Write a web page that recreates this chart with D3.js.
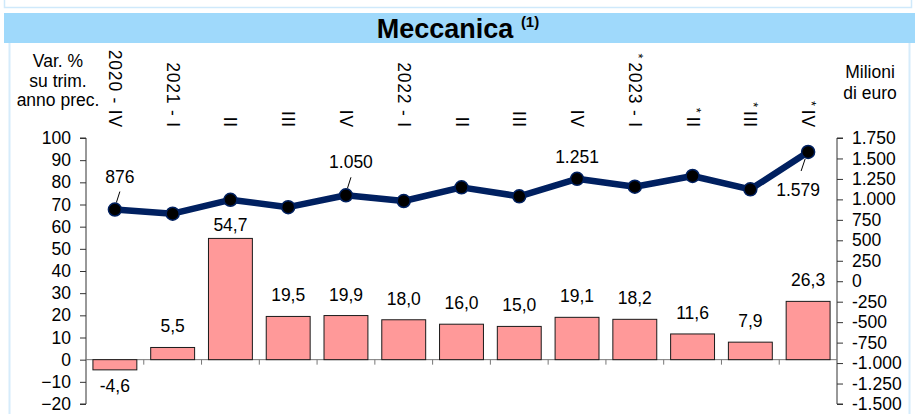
<!DOCTYPE html>
<html>
<head>
<meta charset="utf-8">
<script src="https://cdn.jsdelivr.net/npm/d3@7"></script>
<style>
  body { margin: 0; background: #fff; }
  svg { display: block; font-family: "Liberation Sans", Arial, sans-serif; }
</style>
</head>
<body>
<svg id="chart" width="915" height="414"></svg>
<script>
const quarters = ['2020 - IV', '2021 - I', 'II', 'III', 'IV', '2022 - I', 'II', 'III', 'IV', '2023 - I', 'II', 'III', 'IV']
const provisional = [false, false, false, false, false, false, false, false, false, true, true, true, true]
const varPct = [-4.6, 5.5, 54.7, 19.5, 19.9, 18.0, 16.0, 15.0, 19.1, 18.2, 11.6, 7.9, 26.3]
const milioni = [876, 825, 995, 905, 1050, 980, 1147, 1037, 1251, 1155, 1286, 1123, 1579]
const labelledPoints = [0, 4, 8, 12]
const leftTicks = d3.range(-20, 101, 10)
const rightTicks = d3.range(-1500, 1751, 250)

const it = d3.formatLocale({ decimal: ',', thousands: '.', grouping: [3], currency: ['', '€'], minus: '-' })
const fmt1 = it.format('.1f')
const fmtK = it.format(',d')

const svg = d3.select('#chart')
const pLeft = 86, pRight = 837, pTop = 138, pBottom = 404
const fs = 17.5

// frame / title band
svg.append('path')
  .attr('d', 'M4.5,0 V7.5 H911.5 V0')
  .attr('fill', 'none').attr('stroke', '#cfe9fb').attr('stroke-width', 1.5)
svg.append('rect')
  .attr('x', 4).attr('y', 13).attr('width', 911).attr('height', 30)
  .attr('fill', '#9fd9fb')
svg.append('path')
  .attr('d', 'M9.5,43 V414 M909.5,43 V414')
  .attr('fill', 'none').attr('stroke', '#d6ecfb').attr('stroke-width', 2)

const title = svg.append('text')
  .attr('x', 458).attr('y', 38)
  .attr('text-anchor', 'middle')
  .attr('font-size', 27).attr('font-weight', 'bold')
title.append('tspan').text('Meccanica ')
title.append('tspan').attr('font-size', 15).attr('dy', -11).text('(1)')

// scales
const x = d3.scaleBand().domain(d3.range(quarters.length)).range([pLeft, pRight]).paddingInner(0.24).paddingOuter(0.12)
const yL = d3.scaleLinear().domain([-20, 100]).range([pBottom, pTop])
const yR = d3.scaleLinear().domain([-1500, 1750]).range([pBottom, pTop])

// axes
const axL = svg.append('g')
  .attr('transform', `translate(${pLeft},0)`)
  .call(d3.axisLeft(yL).tickValues(leftTicks).tickSize(6).tickPadding(9).tickFormat(d3.format('d')))
const axR = svg.append('g')
  .attr('transform', `translate(${pRight},0)`)
  .call(d3.axisRight(yR).tickValues(rightTicks).tickSize(6).tickPadding(9).tickFormat(fmtK))
;[axL, axR].forEach(function(g) {
  g.select('.domain').attr('stroke', '#333').attr('d', g === axL ? `M-6,${pTop}H0V${pBottom}H-6` : `M6,${pTop}H0V${pBottom}H6`)
  g.selectAll('.tick line').attr('stroke', '#333')
  g.selectAll('.tick text').attr('font-size', fs).attr('fill', '#000').attr('font-family', '"Liberation Sans", Arial, sans-serif')
})

// zero line with category ticks
const xs = d3.range(quarters.length + 1).map(i => pLeft + i * (pRight - pLeft) / quarters.length)
svg.append('line')
  .attr('x1', pLeft).attr('x2', pRight).attr('y1', yL(0)).attr('y2', yL(0))
  .attr('stroke', '#777').attr('stroke-width', 1)
svg.append('g').selectAll('line')
  .data(xs.slice(1, -1))
  .enter().append('line')
  .attr('x1', d => d).attr('x2', d => d)
  .attr('y1', yL(0)).attr('y2', yL(0) + 5)
  .attr('stroke', '#777')

// bars
svg.append('g').selectAll('rect')
  .data(varPct)
  .enter().append('rect')
  .attr('x', (d, i) => x(i))
  .attr('width', x.bandwidth())
  .attr('y', d => yL(Math.max(0, d)))
  .attr('height', d => Math.abs(yL(d) - yL(0)))
  .attr('fill', '#ff9999')
  .attr('stroke', '#1a1a1a').attr('stroke-width', 1)

svg.append('g').selectAll('text')
  .data(varPct)
  .enter().append('text')
  .attr('x', (d, i) => x(i) + x.bandwidth() / 2)
  .attr('y', (d, i) => d < 0 ? yL(d) + 22 : yL(d) - (i === 2 ? 7 : 15))
  .attr('text-anchor', 'middle')
  .attr('font-size', fs)
  .text(d => fmt1(d))

// line
const cx = i => x(i) + x.bandwidth() / 2
const line = d3.line().x((d, i) => cx(i)).y(d => yR(d))
svg.append('path')
  .datum(milioni)
  .attr('d', line)
  .attr('fill', 'none')
  .attr('stroke', '#002060')
  .attr('stroke-width', 6.5)
  .attr('stroke-linejoin', 'round')
svg.append('g').selectAll('circle')
  .data(milioni)
  .enter().append('circle')
  .attr('cx', (d, i) => cx(i))
  .attr('cy', d => yR(d))
  .attr('r', 6.5)
  .attr('fill', '#000')
  .attr('stroke', '#002060').attr('stroke-width', 1.5)

// line labels (with short leaders, like the original data labels)
labelledPoints.forEach(function(i) {
  const px = cx(i), py = yR(milioni[i])
  let lx, ly, lead = null
  if (i === quarters.length - 1) {
    lx = px - 10; ly = py + 44; lead = [px - 7, py + 19, px - 3, py + 7]
  } else if (i === 8) {
    lx = px; ly = py - 16
  } else {
    lx = px + 5; ly = py - 27; lead = [px + 5, py - 18, px + 1.5, py - 7]
  }
  svg.append('text')
    .attr('x', lx).attr('y', ly)
    .attr('text-anchor', 'middle')
    .attr('font-size', fs)
    .text(fmtK(milioni[i]))
  if (lead) {
    svg.append('line')
      .attr('x1', lead[0]).attr('y1', lead[1]).attr('x2', lead[2]).attr('y2', lead[3])
      .attr('stroke', '#000').attr('stroke-width', 1)
  }
})

// rotated category labels
svg.append('g').selectAll('text')
  .data(quarters)
  .enter().append('text')
  .attr('transform', (d, i) => `translate(${cx(i) - 6},128) rotate(90)`)
  .attr('text-anchor', 'end')
  .attr('font-size', fs)
  .attr('letter-spacing', 0.8)
  .each(function(d, i) {
    const t = d3.select(this)
    if (provisional[i]) {
      t.append('tspan').attr('font-size', 13).attr('dy', -5).text('*')
      t.append('tspan').attr('dy', 5).attr('dx', 3).text(d)
    } else {
      t.text(d)
    }
  })

// axis titles
const lt = svg.append('text').attr('text-anchor', 'middle').attr('font-size', fs)
;['Var. %', 'su trim.', 'anno prec.'].forEach(function(s, k) {
  lt.append('tspan').attr('x', 58).attr('y', 67 + k * 19.5).text(s)
})
const rt = svg.append('text').attr('text-anchor', 'middle').attr('font-size', fs)
;['Milioni', 'di euro'].forEach(function(s, k) {
  rt.append('tspan').attr('x', 870).attr('y', 78 + k * 21).text(s)
})
</script>
</body>
</html>
